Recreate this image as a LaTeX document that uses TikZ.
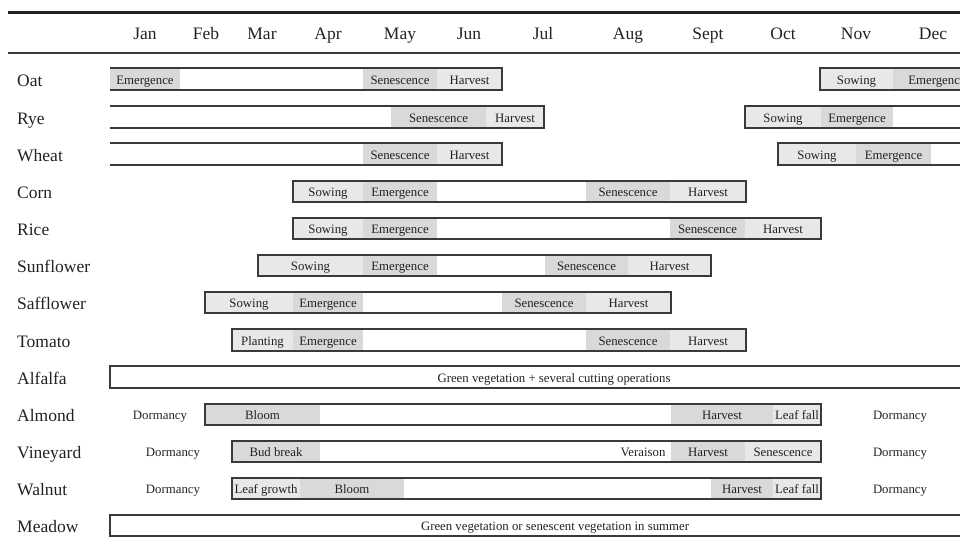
\documentclass[tikz,border=0pt]{standalone}
\usepackage{fontspec}
\setmainfont{Liberation Serif}
\definecolor{ink}{HTML}{222222}
\definecolor{edge}{HTML}{3A3A3A}
\definecolor{phasedark}{HTML}{D9D9DB}
\definecolor{phaselight}{HTML}{E8E8EA}
\begin{document}
\begin{tikzpicture}[
        x = 1pt, y = -1pt,
        crop/.style = {
            anchor = west,
            inner sep = 0,
            text = ink,
            text height = 11.6, text depth = 0,
            font = \fontsize{17.5}{20}\selectfont,
        },
        month/.style = {
            inner sep = 0,
            text = ink,
            text height = 11.6, text depth = 0,
            font = \fontsize{17.5}{20}\selectfont,
        },
        note/.style = {
            inner sep = 0,
            text = ink,
            text height = 10.5, text depth = 0,
            font = \fontsize{12.8}{15}\selectfont,
        },
        dk/.style = {note, fill = phasedark, minimum height = 21.5},
        lt/.style = {note, fill = phaselight, minimum height = 21.5},
        bar/.style = {draw = edge, line width = 1.6},
    ]
    \useasboundingbox (0,0) rectangle (960,537);

    % header
    \draw[ink, line width = 2.6] (8,12.5) -- (960,12.5);
    \draw[edge, line width = 1.6] (8,53.3) -- (960,53.3);
    \node[month] (jan) at (145,34) {Jan};
    \node[month] (feb) at (206,34) {Feb};
    \node[month] (mar) at (262,34) {Mar};
    \node[month] (apr) at (328,34) {Apr};
    \node[month] (may) at (400,34) {May};
    \node[month] (jun) at (469,34) {Jun};
    \node[month] (jul) at (543,34) {Jul};
    \node[month] (aug) at (628,34) {Aug};
    \node[month] (sep) at (708,34) {Sept};
    \node[month] (oct) at (783,34) {Oct};
    \node[month] (nov) at (856,34) {Nov};
    \node[month] (dec) at (933,34) {Dec};

    % crop names
    \node[crop] (oat)   at (17,80.5)  {Oat};
    \node[crop] (rye)   at (17,118.5) {Rye};
    \node[crop] (wheat) at (17,155.5) {Wheat};
    \node[crop] (corn)  at (17,193)   {Corn};
    \node[crop] (rice)  at (17,230)   {Rice};
    \node[crop] (sunf)  at (17,267)   {Sunflower};
    \node[crop] (saff)  at (17,304)   {Safflower};
    \node[crop] (tom)   at (17,341.5) {Tomato};
    \node[crop] (alf)   at (17,378.5) {Alfalfa};
    \node[crop] (alm)   at (17,416)   {Almond};
    \node[crop] (vine)  at (17,453)   {Vineyard};
    \node[crop] (wal)   at (17,490)   {Walnut};
    \node[crop] (mead)  at (17,527)   {Meadow};

    % Oat
    \node[dk, minimum width = 70] (oatE)  at (145,79)   {Emergence};
    \node[dk, minimum width = 74] (oatS)  at (400,79)   {Senescence};
    \node[lt, minimum width = 65] (oatH)  at (469.5,79) {Harvest};
    \node[lt, minimum width = 73] (oatSw) at (856.5,79) {Sowing};
    \node[dk, minimum width = 88] (oatEm) at (937,79)   {Emergence};
    \draw[bar] (110,68.25) -| (502,89.75) -- (110,89.75);
    \draw[bar] (965,68.25) -| (820,89.75) -- (965,89.75);

    % Rye
    \node[dk, minimum width = 95] (ryeS)  at (438.5,117) {Senescence};
    \node[lt, minimum width = 58] (ryeH)  at (515,117)   {Harvest};
    \node[lt, minimum width = 76] (ryeSw) at (783,117)   {Sowing};
    \node[dk, minimum width = 72] (ryeE)  at (857,117)   {Emergence};
    \draw[bar] (110,106.25) -| (544,127.75) -- (110,127.75);
    \draw[bar] (965,106.25) -| (745,127.75) -- (965,127.75);

    % Wheat
    \node[dk, minimum width = 74] (whtS)  at (400,154)   {Senescence};
    \node[lt, minimum width = 65] (whtH)  at (469.5,154) {Harvest};
    \node[lt, minimum width = 78] (whtSw) at (817,154)   {Sowing};
    \node[dk, minimum width = 75] (whtE)  at (893.5,154) {Emergence};
    \draw[bar] (110,143.25) -| (502,164.75) -- (110,164.75);
    \draw[bar] (965,143.25) -| (778,164.75) -- (965,164.75);

    % Corn
    \node[lt, minimum width = 70] (cornSw) at (328,191.5) {Sowing};
    \node[dk, minimum width = 74] (cornE)  at (400,191.5) {Emergence};
    \node[dk, minimum width = 84] (cornS)  at (628,191.5) {Senescence};
    \node[lt, minimum width = 76] (cornH)  at (708,191.5) {Harvest};
    \draw[bar] (293,180.75) rectangle (746,202.25);

    % Rice
    \node[lt, minimum width = 70] (riceSw) at (328,228.5)   {Sowing};
    \node[dk, minimum width = 74] (riceE)  at (400,228.5)   {Emergence};
    \node[dk, minimum width = 75] (riceS)  at (707.5,228.5) {Senescence};
    \node[lt, minimum width = 76] (riceH)  at (783,228.5)   {Harvest};
    \draw[bar] (293,217.75) rectangle (821,239.25);

    % Sunflower
    \node[lt, minimum width = 105] (sunfSw) at (310.5,265.5) {Sowing};
    \node[dk, minimum width = 74]  (sunfE)  at (400,265.5)   {Emergence};
    \node[dk, minimum width = 83]  (sunfS)  at (586.5,265.5) {Senescence};
    \node[lt, minimum width = 83]  (sunfH)  at (669.5,265.5) {Harvest};
    \draw[bar] (258,254.75) rectangle (711,276.25);

    % Safflower
    \node[lt, minimum width = 88] (saffSw) at (249,302.5)   {Sowing};
    \node[dk, minimum width = 70] (saffE)  at (328,302.5)   {Emergence};
    \node[dk, minimum width = 84] (saffS)  at (544,302.5)   {Senescence};
    \node[lt, minimum width = 85] (saffH)  at (628.5,302.5) {Harvest};
    \draw[bar] (205,291.75) rectangle (671,313.25);

    % Tomato
    \node[lt, minimum width = 61] (tomP) at (262.5,340) {Planting};
    \node[dk, minimum width = 70] (tomE) at (328,340)   {Emergence};
    \node[dk, minimum width = 84] (tomS) at (628,340)   {Senescence};
    \node[lt, minimum width = 76] (tomH) at (708,340)   {Harvest};
    \draw[bar] (232,329.25) rectangle (746,350.75);

    % Alfalfa
    \draw[bar] (965,366.25) -| (110,387.75) -- (965,387.75);
    \node[note] (alfG) at (554,377) {Green vegetation + several cutting operations};

    % Almond
    \node[note] (almD1) at (160,414.5) {Dormancy};
    \node[dk, minimum width = 115] (almB) at (262.5,414.5) {Bloom};
    \node[dk, minimum width = 102] (almH) at (722,414.5)   {Harvest};
    \node[lt, minimum width = 48]  (almL) at (797,414.5)   {Leaf fall};
    \draw[bar] (205,403.75) rectangle (821,425.25);
    \node[note] (almD2) at (900,414.5) {Dormancy};

    % Vineyard
    \node[note] (vinD1) at (173,451.5) {Dormancy};
    \node[dk, minimum width = 88] (vinB) at (276,451.5) {Bud break};
    \node[note] (vinV) at (643,451.5) {Veraison};
    \node[dk, minimum width = 74] (vinH) at (708,451.5) {Harvest};
    \node[lt, minimum width = 76] (vinS) at (783,451.5) {Senescence};
    \draw[bar] (232,440.75) rectangle (821,462.25);
    \node[note] (vinD2) at (900,451.5) {Dormancy};

    % Walnut
    \node[note] (walD1) at (173,488.5) {Dormancy};
    \node[lt, minimum width = 68]  (walL) at (266,488.5) {Leaf growth};
    \node[dk, minimum width = 104] (walB) at (352,488.5) {Bloom};
    \node[dk, minimum width = 62]  (walH) at (742,488.5) {Harvest};
    \node[lt, minimum width = 48]  (walF) at (797,488.5) {Leaf fall};
    \draw[bar] (232,477.75) rectangle (821,499.25);
    \node[note] (walD2) at (900,488.5) {Dormancy};

    % Meadow
    \draw[bar] (965,514.75) -| (110,536.25) -- (965,536.25);
    \node[note] (meadG) at (555,525.5) {Green vegetation or senescent vegetation in summer};
\end{tikzpicture}
\end{document}
